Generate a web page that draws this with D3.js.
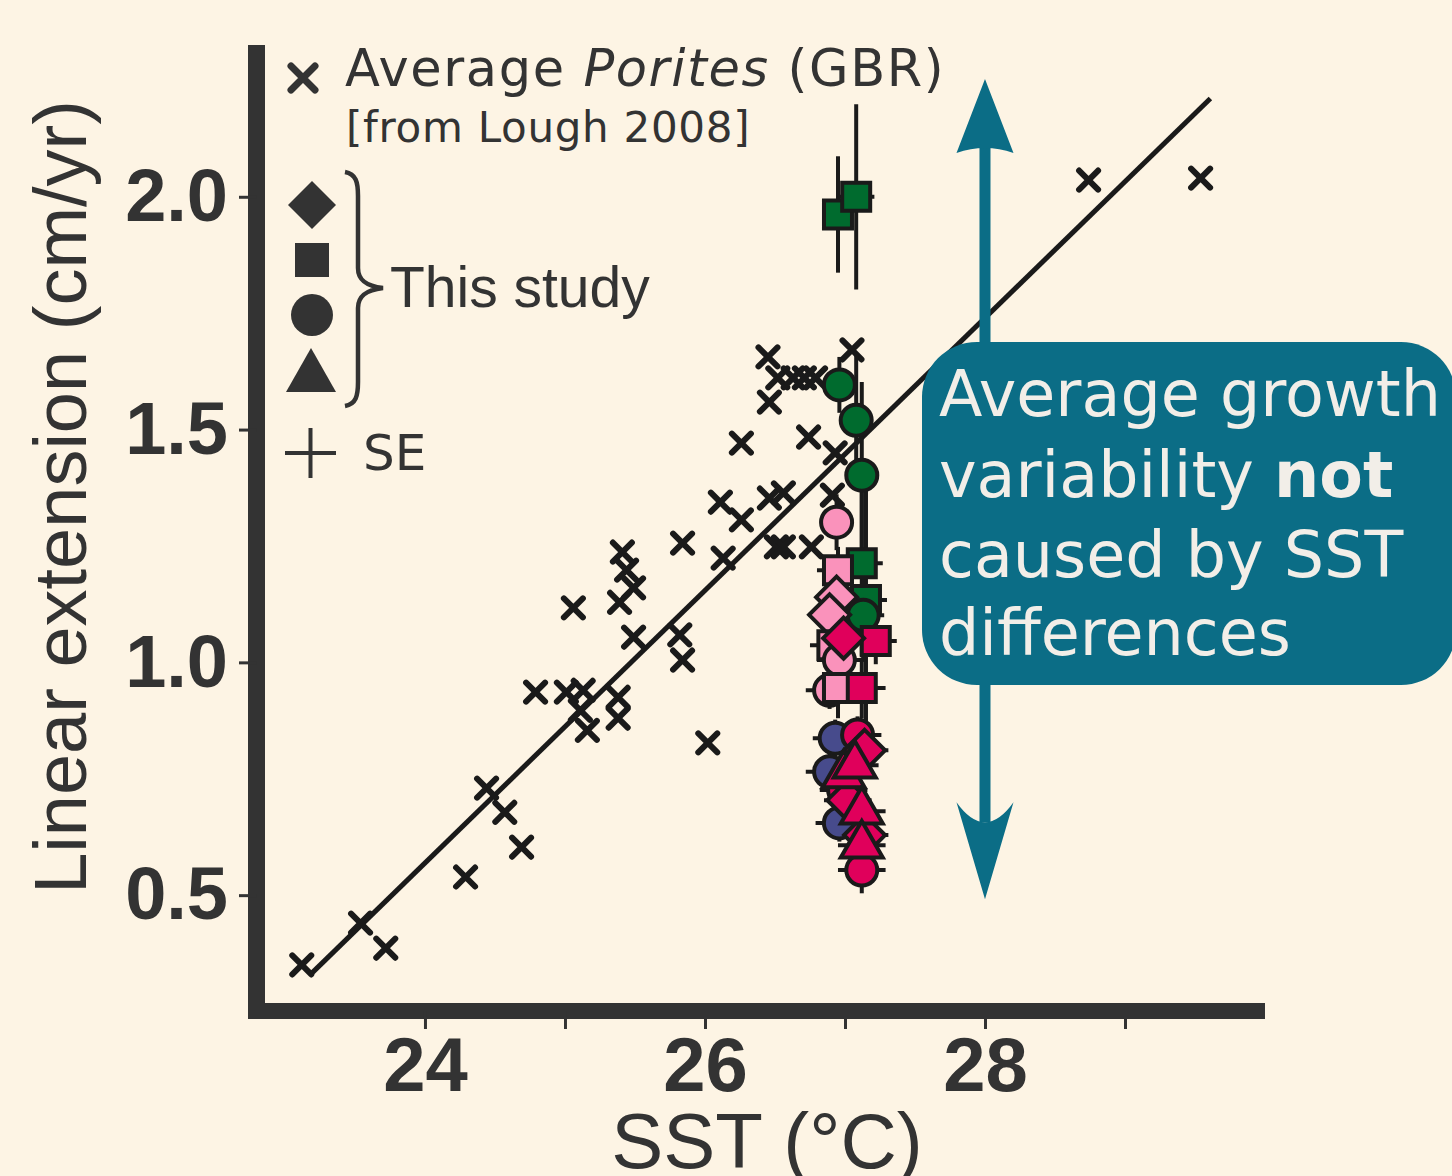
<!DOCTYPE html>
<html><head><meta charset="utf-8">
<script src="https://cdn.jsdelivr.net/npm/d3@7"></script>
<style>html,body{margin:0;padding:0;background:#fdf4e4;}svg{display:block}</style>
</head><body>
<svg id="c" width="1452" height="1176"></svg>
<script>
// ---- Lough 2008 averages (GBR Porites) ----
const loughSST = [23.12,23.54,23.72,24.29,24.44,24.57,24.69,24.79,25.01,25.06,25.13,25.11,25.16,25.38,25.38,
  25.41,25.44,25.49,25.39,25.49,25.84,25.82,25.84,26.02,26.11,26.26,26.13,26.26,26.45,26.46,26.46,26.56,
  26.51,26.56,26.76,26.52,26.63,26.71,26.79,26.74,26.91,26.93,27.05,28.74,29.54];
const loughLE = [0.350,0.440,0.386,0.539,0.730,0.678,0.603,0.936,0.936,1.117,0.940,0.897,0.854,0.925,0.880,
  1.237,1.198,1.160,1.129,1.054,1.256,1.059,1.005,0.827,1.344,1.306,1.224,1.471,1.656,1.559,1.353,1.364,
  1.248,1.248,1.248,1.611,1.611,1.611,1.611,1.484,1.359,1.450,1.671,2.036,2.040];

// ---- regression line ----
const fitSST = [23.19, 29.61];
const fitLE  = [0.332, 2.211];

// ---- This study ----
const studyShape = ["square","square","circle","circle","circle","square","square","circle",
  "circle","square","diamond","diamond","square","circle","circle","square",
  "circle","circle","circle",
  "diamond","square","square","circle","diamond","circle","diamond","triangle","triangle","triangle","diamond","triangle","circle"];
const studyGroup = ["g","g","g","g","g","g","g","g",
  "p","p","p","p","p","p","p","p",
  "n","n","n",
  "c","c","c","c","c","c","c","c","c","c","c","c","c"];
const studySST = [26.95,27.08,26.96,27.08,27.12,27.12,27.15,27.13,
  26.94,26.95,26.94,26.89,26.91,26.96,26.89,26.95,
  26.93,26.89,26.96,
  26.99,27.22,27.12,27.09,27.14,26.99,27.02,26.99,27.07,27.12,27.14,27.12,27.12];
const studyLE = [1.962,2.000,1.596,1.520,1.402,1.213,1.134,1.101,
  1.301,1.198,1.140,1.102,1.037,1.005,0.940,0.945,
  0.837,0.765,0.655,
  1.052,1.046,0.945,0.844,0.811,0.726,0.704,0.758,0.779,0.680,0.629,0.607,0.554];
const studySE = [0.125,0.199,0.06,0.14,0.20,0.20,0.30,0.10,
  0.06,0.05,0.04,0.04,0.04,0.04,0.04,0.065,
  0.04,0.04,0.04,
  0.04,0.05,0.065,0.04,0.04,0.04,0.04,0.04,0.04,0.04,0.04,0.04,0.05];
const studyXSE = [0.10,0.13,0.10,0.10,0.12,0.15,0.15,0.15,
  0.12,0.15,0.15,0.15,0.16,0.16,0.17,0.16,
  0.16,0.17,0.17,
  0.15,0.15,0.17,0.17,0.17,0.17,0.17,0.17,0.17,0.17,0.17,0.17,0.17];
const groupColor = {g:"#006b2e", p:"#fa92bb", c:"#e0005b", n:"#474b8c"};

// ---- axes ----
const xTicks = [24,25,26,27,28,29];
const xTickLabels = ["24","","26","","28",""];
const yTicks = [0.5,1.0,1.5,2.0];
const yTickLabels = ["0.5","1.0","1.5","2.0"];
const xTitle = "SST (°C)";
const yTitle = "Linear extension (cm/yr)";

// annotation arrow (data units)
const arrowSST = 28.0, arrowTopLE = 2.253, arrowBottomLE = 0.491;

const ink = "#333333", mark = "#1a1a1a", teal = "#0b6d86";
const svg = d3.select("#c");
svg.append("rect").attr("width",1452).attr("height",1176).attr("fill","#fdf4e4");

const x = d3.scaleLinear().domain([22.736, 30.0]).range([248, 1265]);
const y = d3.scaleLinear().domain([0.234, 2.326]).range([1019, 45]);

// X axis
const gx = svg.append("g").attr("transform","translate(0,1011)")
  .call(d3.axisBottom(x).tickValues(xTicks).tickFormat((d,i)=>xTickLabels[i]).tickSizeOuter(0).tickSize(18).tickPadding(8));
gx.select(".domain").attr("stroke",ink).attr("stroke-width",16).attr("d","M248,0H1265");
gx.selectAll(".tick line").attr("stroke",ink).attr("stroke-width",3);
gx.selectAll(".tick text").attr("fill",ink).attr("font-family","'Liberation Sans',Arial,sans-serif")
  .attr("font-weight","bold").attr("font-size",76);

// Y axis
const gy = svg.append("g").attr("transform","translate(256.5,0)")
  .call(d3.axisLeft(y).tickValues(yTicks).tickFormat((d,i)=>yTickLabels[i]).tickSizeOuter(0).tickSize(17.5).tickPadding(11));
gy.select(".domain").attr("stroke",ink).attr("stroke-width",17).attr("d","M0,45V1019");
gy.selectAll(".tick line").attr("stroke",ink).attr("stroke-width",3);
gy.selectAll(".tick text").attr("fill",ink).attr("font-family","'Liberation Sans',Arial,sans-serif")
  .attr("font-weight","bold").attr("font-size",74);

svg.append("text").attr("x",767).attr("y",1168).attr("text-anchor","middle")
  .attr("font-family","'Liberation Sans',Arial,sans-serif").attr("font-size",78).attr("fill",ink).text(xTitle);
svg.append("text").attr("transform","translate(86,497) rotate(-90)").attr("text-anchor","middle")
  .attr("font-family","'Liberation Sans',Arial,sans-serif").attr("font-size",74).attr("fill",ink).text(yTitle);

// regression line
svg.append("path").datum(fitSST.map((s,i)=>[s,fitLE[i]]))
  .attr("d", d3.line().x(d=>x(d[0])).y(d=>y(d[1])))
  .attr("stroke",mark).attr("stroke-width",5).attr("fill","none");

// Lough crosses
const cross = a => `M${-a},${-a}L${a},${a}M${-a},${a}L${a},${-a}`;
svg.append("g").selectAll("path").data(loughSST.map((s,i)=>[s,loughLE[i]])).join("path")
  .attr("transform",d=>`translate(${x(d[0])},${y(d[1])})`)
  .attr("d",cross(9.5)).attr("stroke",mark).attr("stroke-width",6).attr("stroke-linecap","round").attr("fill","none");

// study points
const study = studySST.map((s,i)=>({s, le:studyLE[i], se:studySE[i], xse:studyXSE[i], shape:studyShape[i], g:studyGroup[i]}));
const order = ["g","p","n","c"];
const shapeOrder = {circle:0, square:1, diamond:2, triangle:3};
study.sort((a,b)=> (order.indexOf(a.g)-order.indexOf(b.g)) || (a.g==="c" ? shapeOrder[a.shape]-shapeOrder[b.shape] : 0));

function shapePath(shape, k){
  if(shape==="circle"){const r=15.5*k; return `M${-r},0A${r},${r} 0 1,0 ${r},0A${r},${r} 0 1,0 ${-r},0Z`;}
  if(shape==="square"){const h=14*k; return `M${-h},${-h}H${h}V${h}H${-h}Z`;}
  if(shape==="diamond"){const h=20.5*k; return `M0,${-h}L${h},0L0,${h}L${-h},0Z`;}
  const s=42*k, hgt=s*Math.sqrt(3)/2; return `M0,${-2*hgt/3}L${s/2},${hgt/3}L${-s/2},${hgt/3}Z`;
}

const eb = svg.append("g").attr("stroke",mark).attr("stroke-width",4);
study.forEach(d=>{
  eb.append("line").attr("x1",x(d.s)).attr("x2",x(d.s)).attr("y1",y(d.le-d.se)).attr("y2",y(d.le+d.se));
  eb.append("line").attr("x1",x(d.s-d.xse)).attr("x2",x(d.s+d.xse)).attr("y1",y(d.le)).attr("y2",y(d.le));
});
svg.append("g").selectAll("path").data(study).join("path")
  .attr("transform",d=>`translate(${x(d.s)},${y(d.le)})`)
  .attr("d",d=>shapePath(d.shape,1)).attr("fill",d=>groupColor[d.g])
  .attr("stroke",mark).attr("stroke-width",4).attr("stroke-linejoin","miter");

// legend
const lg = svg.append("g");
lg.append("path").attr("transform","translate(303,78)").attr("d",cross(12))
  .attr("stroke",ink).attr("stroke-width",7).attr("stroke-linecap","round");
const t1 = lg.append("text").attr("x",345).attr("y",86).attr("font-family","'DejaVu Sans',sans-serif")
  .attr("font-size",51).attr("letter-spacing",1.6).attr("fill",ink);
t1.append("tspan").text("Average ");
t1.append("tspan").attr("font-style","italic").text("Porites");
t1.append("tspan").text(" (GBR)");
lg.append("text").attr("x",346).attr("y",142).attr("font-family","'DejaVu Sans',sans-serif")
  .attr("font-size",42).attr("letter-spacing",0.7).attr("fill",ink).text("[from Lough 2008]");
lg.append("path").attr("transform","translate(312,205)").attr("d","M0,-24L24,0L0,24L-24,0Z").attr("fill",ink);
lg.append("path").attr("transform","translate(312,260)").attr("d","M-17,-17H17V17H-17Z").attr("fill",ink);
lg.append("circle").attr("cx",312).attr("cy",315).attr("r",21).attr("fill",ink);
lg.append("path").attr("transform","translate(311,370)").attr("d","M0,-22L25,22L-25,22Z").attr("fill",ink);
lg.append("path").attr("d","M345,172 C356,174 358,182 358,196 L358,268 C358,280 366,286 383,288 C366,290 358,296 358,308 L358,382 C358,396 356,404 345,406")
  .attr("fill","none").attr("stroke",ink).attr("stroke-width",4.5);
lg.append("text").attr("x",390).attr("y",307).attr("font-family","'Liberation Sans',Arial,sans-serif")
  .attr("font-size",57).attr("fill",ink).text("This study");
lg.append("path").attr("d","M285,453H336M310.5,428V478").attr("stroke",ink).attr("stroke-width",4);
lg.append("text").attr("x",363).attr("y",470).attr("font-family","'DejaVu Sans',sans-serif")
  .attr("font-size",50).attr("fill",ink).text("SE");

// annotation arrow and box
const ax = x(arrowSST), ayT = y(arrowTopLE), ayB = y(arrowBottomLE);
const an = svg.append("g");
an.append("line").attr("x1",ax).attr("x2",ax).attr("y1",ayT+69).attr("y2",ayB-77)
  .attr("stroke",teal).attr("stroke-width",11);
an.append("path").attr("d",`M${ax},${ayT}L${ax+28.5},${ayT+74}Q${ax},${ayT+64} ${ax-28.5},${ayT+74}Z`).attr("fill",teal);
an.append("path").attr("d",`M${ax},${ayB}L${ax+28.5},${ayB-97}Q${ax},${ayB-57} ${ax-28.5},${ayB-97}Z`).attr("fill",teal);
an.append("rect").attr("x",922).attr("y",342).attr("width",534).attr("height",343).attr("rx",55).attr("fill",teal);
const lines = [["Average growth"],["variability ","not"],["caused by SST"],["differences"]];
const base = [416,497,577,655];
lines.forEach((ln,i)=>{
  const t = an.append("text").attr("x",939).attr("y",base[i]).attr("font-family","'DejaVu Sans',sans-serif")
    .attr("font-size",63.5).attr("fill","#f2eee8");
  t.append("tspan").text(ln[0]);
  if(ln[1]) t.append("tspan").attr("font-weight","bold").text(ln[1]);
});
</script>
</body></html>
